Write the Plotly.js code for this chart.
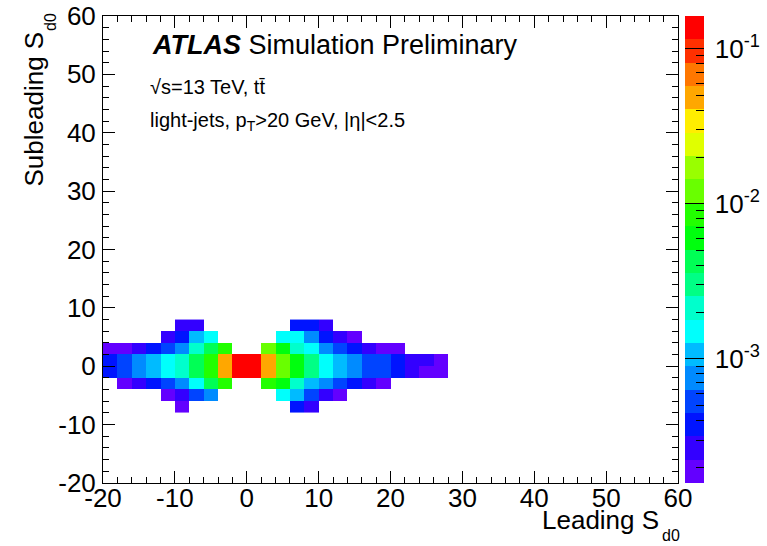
<!DOCTYPE html>
<html>
<head>
<meta charset="utf-8">
<script src="https://cdn.plot.ly/plotly-3.0.1.min.js"></script>
<style>html,body{margin:0;padding:0;background:#fff;}#chart{width:767px;height:546px;}</style>
</head>
<body>
<div id="chart"></div>
<script>
// ---- data: bin centres (2 x 2 bins) and fraction of jets per bin ----
const leadingSd0 = [-19,-17,-15,-13,-11,-9,-7,-5,-3,-1,1,3,5,7,9,11,13,15,17,19,21,23,25,27];
const subleadingSd0 = [-7,-5,-3,-1,1,3,5,7];
const N = null;
const rowYm7 = [N,N,N,N,N,1.9e-4,N,N,N,N,N,N,N,3.8e-4,2.7e-4,N,N,N,N,N,N,N,N,N];
const rowYm5 = [N,N,N,N,1.9e-4,2.7e-4,5.3e-4,7.5e-4,N,N,N,N,1.5e-3,1.07e-3,5.3e-4,2.7e-4,1.9e-4,N,N,N,N,N,N,N];
const rowYm3 = [N,1.9e-4,2.7e-4,3.8e-4,5.3e-4,7.5e-4,1.5e-3,4.3e-3,8.5e-3,N,N,8.5e-3,6.0e-3,2.1e-3,1.07e-3,7.5e-4,5.3e-4,3.8e-4,2.7e-4,1.9e-4,N,N,N,N];
const rowYm1 = [3.8e-4,5.3e-4,7.5e-4,1.07e-3,1.5e-3,2.1e-3,4.3e-3,8.5e-3,4.8e-2,0.16,0.15,4.8e-2,1.2e-2,6.0e-3,3.0e-3,1.5e-3,1.07e-3,7.5e-4,5.3e-4,5.3e-4,3.8e-4,2.7e-4,1.9e-4,1.9e-4];
const rowYp1 = [3.9e-4,5.4e-4,7.6e-4,1.05e-3,1.52e-3,2.15e-3,4.2e-3,8.6e-3,4.9e-2,0.16,0.155,4.7e-2,1.22e-2,6.1e-3,3.05e-3,1.48e-3,1.06e-3,7.4e-4,5.2e-4,5.25e-4,3.7e-4,2.6e-4,2.5e-4,1.95e-4];
const rowYp3 = [1.9e-4,2.0e-4,2.7e-4,3.8e-4,5.3e-4,7.5e-4,2.1e-3,4.3e-3,8.5e-3,N,N,1.2e-2,6.0e-3,2.1e-3,1.5e-3,7.5e-4,5.3e-4,3.8e-4,2.7e-4,1.9e-4,1.85e-4,N,N,N];
const rowYp5 = [N,N,N,N,2.7e-4,3.8e-4,1.07e-3,1.5e-3,N,N,N,N,1.5e-3,1.45e-3,7.5e-4,3.8e-4,2.7e-4,1.9e-4,N,N,N,N,N,N];
const rowYp7 = [N,N,N,N,N,2.7e-4,2.6e-4,N,N,N,N,N,N,3.8e-4,3.7e-4,2.7e-4,N,N,N,N,N,N,N,N];
const zMin = 1.585e-4, zMax = 0.1626;
const axisTickVals = [-20,-10,0,10,20,30,40,50,60];
const axisTickText = ['-20','-10','0','10','20','30','40','50','60'];
const cbMajorVals = [1e-3, 1e-2, 1e-1];
const cbMajorExp = ['-3','-2','-1'];

// ---- style ----
const palette = ['#6300FF','#3300FF','#0014FF','#0044FF','#008BFF','#00BBFF','#00FFFC','#00FFCC','#00FF85','#00FF55',
                 '#00FF0E','#22FF00','#69FF00','#99FF00','#E0FF00','#FFEE00','#FFA700','#FF7700','#FF3000','#FF0000'];
const colorscale = [];
palette.forEach((c,i)=>{ colorscale.push([i/palette.length,c]); colorscale.push([(i+1)/palette.length,c]); });
const FONT = '"Liberation Sans", Arial, Helvetica, sans-serif';

const rows = [rowYm7,rowYm5,rowYm3,rowYm1,rowYp1,rowYp3,rowYp5,rowYp7];
const zLog = rows.map(r => r.map(v => v === null ? null : Math.log10(v)));
const lmin = Math.log10(zMin), lmax = Math.log10(zMax);

const minorVals = [];
for (let d = -4; d <= -1; d++) for (let m = 2; m <= 9; m++) {
  const v = Math.log10(m) + d;
  if (v > lmin && v < lmax) minorVals.push(v);
}

const cbX = (685-103)/575;
const main = {
  type:'heatmap', x: leadingSd0, y: subleadingSd0, z: zLog,
  zmin: lmin, zmax: lmax, colorscale: colorscale, hoverongaps:false,
  colorbar: {x: cbX, xanchor:'left', xpad:0, y:0.5, yanchor:'middle', len:1, lenmode:'fraction', ypad:0,
             thickness:19, thicknessmode:'pixels', outlinewidth:0,
             tickmode:'array', tickvals: minorVals, ticktext: minorVals.map(()=>''),
             ticks:'inside', ticklen:8, tickcolor:'#000', tickwidth:1, showticklabels:false}
};
const overlay = {
  type:'heatmap', x: leadingSd0, y: subleadingSd0, z: zLog,
  zmin: lmin, zmax: lmax, colorscale: [[0,'rgba(0,0,0,0)'],[1,'rgba(0,0,0,0)']], hoverinfo:'skip',
  colorbar: {x: cbX, xanchor:'left', xpad:0, y:0.5, yanchor:'middle', len:1, lenmode:'fraction', ypad:0,
             thickness:19, thicknessmode:'pixels', outlinewidth:0, bgcolor:'rgba(0,0,0,0)',
             tickmode:'array', tickvals: cbMajorVals.map(v=>Math.log10(v)),
             ticktext: cbMajorExp.map(e=>'<span style="font-size:18px">\u00A0</span>10<sup>'+e+'</sup>'),
             ticks:'inside', ticklen:19, tickcolor:'#000', tickwidth:1,
             tickfont:{family:FONT, size:26, color:'#000'}}
};

const axisCommon = {
  range:[-20,60], tickmode:'array', tickvals:axisTickVals, ticktext:axisTickText,
  ticks:'inside', ticklen:12, tickwidth:1, tickcolor:'#000',
  showline:true, linecolor:'#000', linewidth:1, mirror:'allticks', showgrid:false, zeroline:false,
  tickfont:{family:FONT, size:26, color:'#000'},
  minor:{dtick:2, tick0:0, ticks:'inside', ticklen:6, tickwidth:1, tickcolor:'#000', showgrid:false}
};

const layout = {
  width:767, height:546,
  margin:{l:103, r:89, t:16, b:63, autoexpand:false},
  paper_bgcolor:'#fff', plot_bgcolor:'#fff',
  font:{family:FONT, color:'#000'},
  xaxis: Object.assign({}, axisCommon, {ticklabelstandoff:-8}),
  yaxis: Object.assign({}, axisCommon, {ticklabelstandoff:1}),
  annotations:[
    {xref:'paper', yref:'paper', x:(150-103)/575, y:(483-45)/467, xanchor:'left', yanchor:'middle', showarrow:false,
     text:'<b><i>ATLAS</i></b> Simulation Preliminary', font:{family:FONT, size:27, color:'#000'}},
    {xref:'paper', yref:'paper', x:(148-103)/575, y:(483-87)/467, xanchor:'left', yanchor:'middle', showarrow:false,
     text:'\u221As=13 TeV, tt\u0304', font:{family:FONT, size:20, color:'#000'}},
    {xref:'paper', yref:'paper', x:(148-103)/575, y:(483-121)/467, xanchor:'left', yanchor:'middle', showarrow:false,
     text:'light-jets, p<sub>T</sub>&gt;20 GeV, |\u03B7|&lt;2.5', font:{family:FONT, size:20, color:'#000'}},
    // x-axis title (main text + subscript)
    {xref:'paper', yref:'paper', x:(661-103)/575, y:(483-503)/467, xanchor:'right', yanchor:'top', showarrow:false,
     text:'Leading S', font:{family:FONT, size:26, color:'#000'}},
    {xref:'paper', yref:'paper', x:(660-103)/575, y:(483-525)/467, xanchor:'left', yanchor:'top', showarrow:false,
     text:'d0', font:{family:FONT, size:16, color:'#000'}},
    // y-axis title (main text + subscript)
    {xref:'paper', yref:'paper', x:(33-103)/575, y:(483-30)/467, xanchor:'center', yanchor:'top', showarrow:false, textangle:-90,
     text:'Subleading S', font:{family:FONT, size:26, color:'#000'}},
    {xref:'paper', yref:'paper', x:(51-103)/575, y:(483-11)/467, xanchor:'center', yanchor:'top', showarrow:false, textangle:-90,
     text:'d0', font:{family:FONT, size:16, color:'#000'}}
  ]
};

Plotly.newPlot('chart', [main, overlay], layout, {displayModeBar:false, staticPlot:true});
</script>
</body>
</html>
